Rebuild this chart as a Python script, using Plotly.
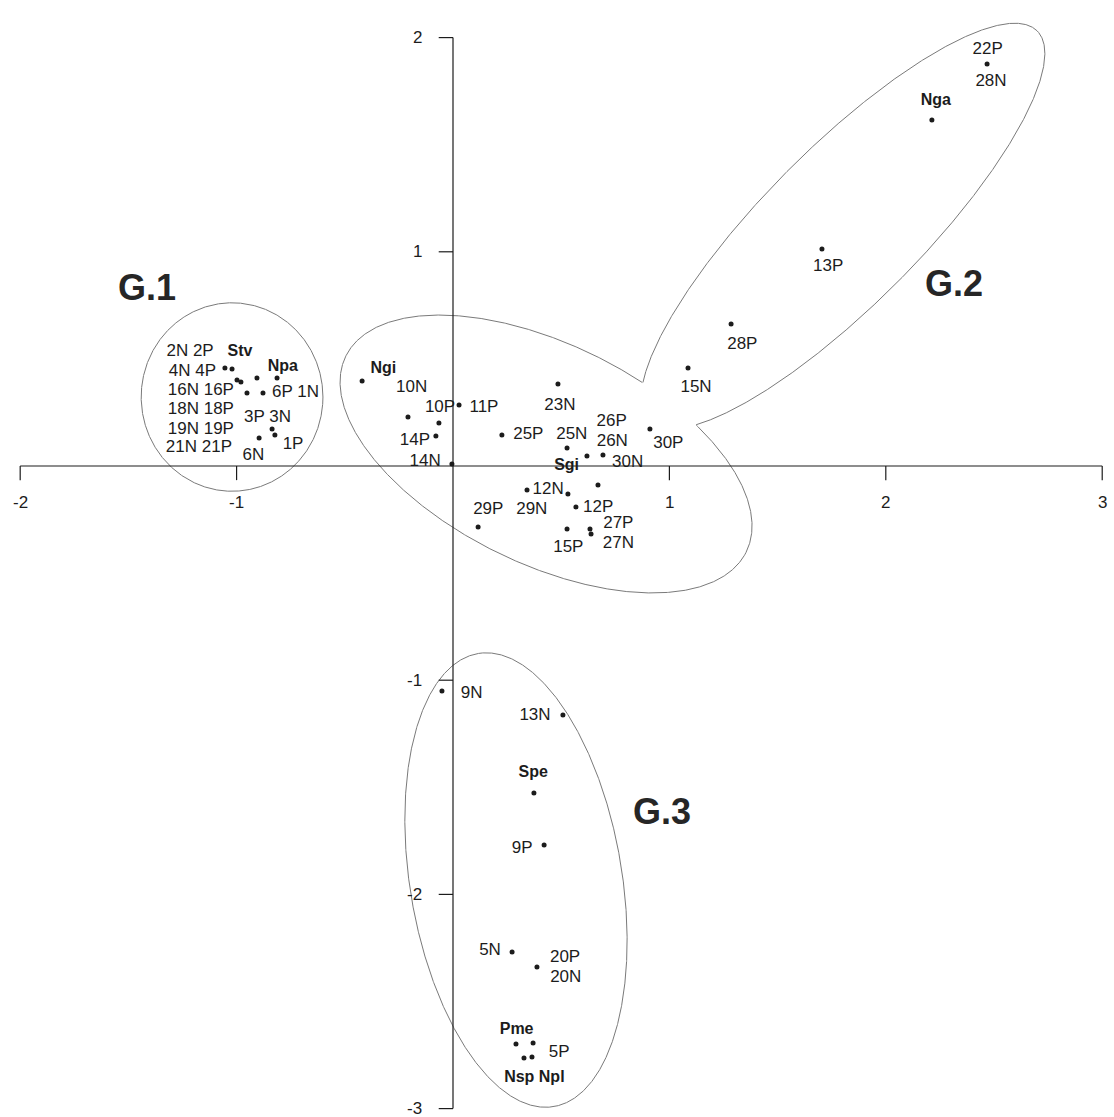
import numpy as np
import plotly.graph_objects as go

# ---------------- data ----------------
# points of the ordination (axis 1, axis 2)
G1_X = [-1.054, -1.021, -0.998, -0.980, -0.906, -0.813, -0.952, -0.878, -0.836, -0.823, -0.896]
G1_Y = [0.458, 0.453, 0.401, 0.392, 0.411, 0.411, 0.341, 0.341, 0.173, 0.145, 0.131]

MID_X = [-0.420, -0.208, -0.065, -0.079, 0.028, -0.005, 0.485, 0.226, 0.527, 0.619, 0.693, 0.910,
         0.342, 0.531, 0.670, 0.568, 0.116, 0.527, 0.633, 0.638]
MID_Y = [0.397, 0.229, 0.201, 0.140, 0.285, 0.009, 0.383, 0.145, 0.084, 0.047, 0.051, 0.173,
         -0.112, -0.131, -0.089, -0.191, -0.285, -0.294, -0.294, -0.317]

G2_X = [1.086, 1.285, 1.705, 2.213, 2.468]
G2_Y = [0.458, 0.663, 1.013, 1.615, 1.877]

G3_X = [-0.051, 0.508, 0.374, 0.421, 0.273, 0.388, 0.291, 0.370, 0.328, 0.365]
G3_Y = [-1.050, -1.162, -1.527, -1.769, -2.269, -2.339, -2.698, -2.694, -2.764, -2.759]

# sample labels
LBL_TEXT = ["2N 2P", "4N 4P", "16N 16P", "6P 1N", "18N 18P", "3P 3N", "19N 19P", "21N 21P", "1P", "6N",
            "10N", "10P", "11P", "14P", "14N", "23N", "25P", "25N", "26P", "26N", "30P", "30N",
            "12N", "12P", "29P", "29N", "27P", "27N", "15P",
            "15N", "28P", "13P", "22P", "28N",
            "9N", "13N", "9P", "5N", "20P", "20N", "5P"]
LBL_X = [-1.215, -1.204, -1.165, -0.728, -1.165, -0.857, -1.165, -1.174, -0.739, -0.922,
         -0.191, -0.060, 0.143, -0.176, -0.129, 0.494, 0.348, 0.549, 0.733, 0.736, 0.995, 0.807,
         0.440, 0.671, 0.163, 0.364, 0.764, 0.764, 0.533,
         1.123, 1.337, 1.734, 2.471, 2.486,
         0.086, 0.379, 0.320, 0.171, 0.518, 0.521, 0.491]
LBL_Y = [0.534, 0.439, 0.350, 0.344, 0.261, 0.227, 0.171, 0.083, 0.098, 0.047,
         0.363, 0.274, 0.274, 0.118, 0.020, 0.280, 0.145, 0.145, 0.207, 0.113, 0.106, 0.017,
         -0.112, -0.197, -0.205, -0.205, -0.271, -0.364, -0.381,
         0.367, 0.565, 0.930, 1.945, 1.794,
         -1.061, -1.167, -1.789, -2.264, -2.296, -2.389, -2.737]

# species labels (bold)
SP_TEXT = ["Stv", "Npa", "Ngi", "Sgi", "Nga", "Spe", "Pme", "Nsp Npl"]
SP_X = [-0.984, -0.786, -0.322, 0.525, 2.231, 0.371, 0.294, 0.376]
SP_Y = [0.534, 0.464, 0.451, 0.001, 1.704, -1.432, -2.633, -2.856]

# group labels
GRP_TEXT = ["G.1", "G.2", "G.3"]
GRP_X = [-1.414, 2.315, 0.966]
GRP_Y = [0.819, 0.836, -1.629]

# axes
X_TICKS = [-2, -1, 1, 2, 3]
Y_TICKS = [2, 1, -1, -2, -3]
X_AXIS_SPAN = [-2, 3]
Y_AXIS_SPAN = [-3, 2]

# group envelopes: centre x, centre y, semi-axis a, semi-axis b, rotation (deg)
ENV_G1 = (-1.021, 0.322, 0.42, 0.44, 0.0)
ENV_MID = (0.430, 0.056, 1.032, 0.512, -26.4)
ENV_G2 = (1.802, 1.120, 1.279, 0.363, 45.5)
ENV_G3 = (0.291, -1.933, 1.072, 0.49, 99.3)

# ---------------- styling ----------------
FONT = "Liberation Sans, Arial, sans-serif"
INK = "#1c1c1c"
ENV_COLOR = "#7a7a7a"
TICK_LEN = 0.066
LBL_SIZE = 17


def ellipse_pts(env, n=1441):
    cx, cy, a, b, ang = env
    t = np.linspace(0, 2 * np.pi, n)
    ca, sa = np.cos(np.radians(ang)), np.sin(np.radians(ang))
    x = cx + a * np.cos(t) * ca - b * np.sin(t) * sa
    y = cy + a * np.cos(t) * sa + b * np.sin(t) * ca
    return x, y


def inside(x, y, env):
    cx, cy, a, b, ang = env
    ca, sa = np.cos(np.radians(ang)), np.sin(np.radians(ang))
    dx, dy = x - cx, y - cy
    u = dx * ca + dy * sa
    v = -dx * sa + dy * ca
    return (u / a) ** 2 + (v / b) ** 2 < 1.0


def outline_outside(env, other):
    x, y = ellipse_pts(env)
    mask = inside(x, y, other)
    xs, ys = [], []
    for xi, yi, m in zip(x, y, mask):
        if m:
            xs.append(None)
            ys.append(None)
        else:
            xs.append(float(xi))
            ys.append(float(yi))
    return xs, ys


fig = go.Figure()

# envelopes
for env in (ENV_G1, ENV_G3):
    ex, ey = ellipse_pts(env)
    fig.add_trace(go.Scatter(x=ex, y=ey, mode="lines", line=dict(color=ENV_COLOR, width=1),
                             hoverinfo="skip"))
for env, other in ((ENV_MID, ENV_G2), (ENV_G2, ENV_MID)):
    ex, ey = outline_outside(env, other)
    fig.add_trace(go.Scatter(x=ex, y=ey, mode="lines", line=dict(color=ENV_COLOR, width=1),
                             connectgaps=False, hoverinfo="skip"))

# axes drawn as crossing lines with ticks
ax_x = [X_AXIS_SPAN[0], X_AXIS_SPAN[1], None]
ax_y = [0, 0, None]
for t in X_TICKS:
    ax_x += [t, t, None]
    ax_y += [0, -TICK_LEN, None]
ax_x += [0, 0, None]
ax_y += [Y_AXIS_SPAN[0], Y_AXIS_SPAN[1], None]
for t in Y_TICKS:
    ax_x += [0, -TICK_LEN, None]
    ax_y += [t, t, None]
fig.add_trace(go.Scatter(x=ax_x, y=ax_y, mode="lines", line=dict(color=INK, width=1.2),
                         hoverinfo="skip"))

# points
for px, py in ((G1_X, G1_Y), (MID_X, MID_Y), (G2_X, G2_Y), (G3_X, G3_Y)):
    fig.add_trace(go.Scatter(x=px, y=py, mode="markers",
                             marker=dict(size=5, color=INK), hoverinfo="skip"))

# labels
fig.add_trace(go.Scatter(x=LBL_X, y=LBL_Y, text=LBL_TEXT, mode="text", textposition="middle center",
                         textfont=dict(family=FONT, size=LBL_SIZE, color=INK), cliponaxis=False,
                         hoverinfo="skip"))
fig.add_trace(go.Scatter(x=SP_X, y=SP_Y, text=SP_TEXT, mode="text", textposition="middle center",
                         textfont=dict(family=FONT, size=LBL_SIZE - 1, color=INK, weight="bold"),
                         cliponaxis=False, hoverinfo="skip"))
fig.add_trace(go.Scatter(x=GRP_X, y=GRP_Y, text=GRP_TEXT, mode="text", textposition="middle center",
                         textfont=dict(family=FONT, size=36, color="#262626", weight="bold"),
                         cliponaxis=False, hoverinfo="skip"))

annotations = []
for t in X_TICKS:
    annotations.append(dict(x=t, y=0, xref="x", yref="y", text=str(t), showarrow=False,
                            xanchor="center", yanchor="middle", yshift=-36,
                            font=dict(family=FONT, size=LBL_SIZE, color=INK)))
for t in Y_TICKS:
    annotations.append(dict(x=0, y=t, xref="x", yref="y", text=str(t), showarrow=False,
                            xanchor="right", yanchor="middle", xshift=-29,
                            font=dict(family=FONT, size=LBL_SIZE, color=INK)))

W, H = 1114, 1117
fig.update_layout(
    width=W, height=H,
    margin=dict(l=0, r=0, t=0, b=0),
    paper_bgcolor="white", plot_bgcolor="white",
    showlegend=False,
    xaxis=dict(range=[-2.0933, 3.0545], visible=False, fixedrange=True),
    yaxis=dict(range=[-3.0392, 2.1755], visible=False, fixedrange=True),
    annotations=annotations,
)

fig.write_html("out.html", config={"displayModeBar": False},
               post_script="document.body.style.margin='0';document.body.style.overflow='hidden';")
